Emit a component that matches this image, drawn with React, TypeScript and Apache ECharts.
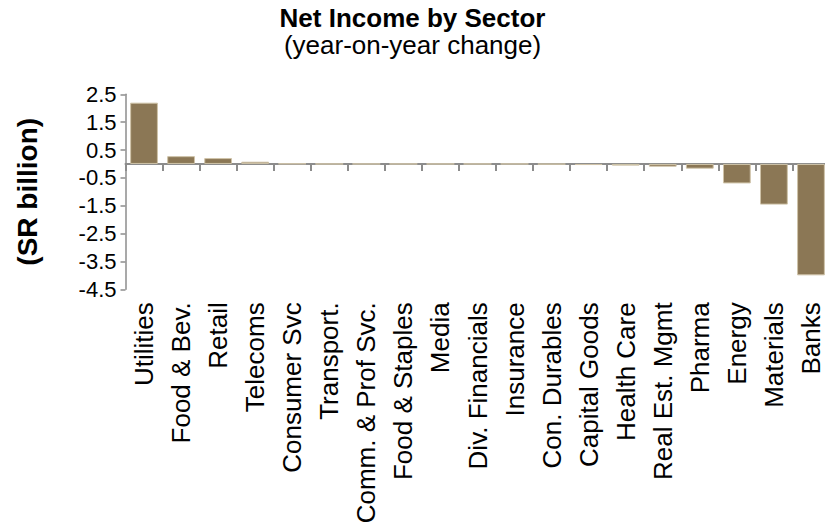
import React, { useEffect, useRef } from "react";
import * as echarts from "echarts";

const categories = [
  "Utilities",
  "Food & Bev.",
  "Retail",
  "Telecoms",
  "Consumer Svc",
  "Transport.",
  "Comm. & Prof Svc.",
  "Food & Staples",
  "Media",
  "Div. Financials",
  "Insurance",
  "Con. Durables",
  "Capital Goods",
  "Health Care",
  "Real Est. Mgmt",
  "Pharma",
  "Energy",
  "Materials",
  "Banks",
];

const netIncomeChange = [
  2.2, 0.28, 0.21, 0.08, 0.01, 0, 0, 0, 0, 0, 0, -0.01, -0.04, -0.06, -0.1,
  -0.17, -0.7, -1.46, -4.0,
];

const yMin = -4.5;
const yMax = 2.5;
const yStep = 1;

const FONT = "'Liberation Sans', Arial, sans-serif";

export default function App() {
  const ref = useRef<HTMLDivElement>(null);

  useEffect(() => {
    if (!ref.current) return;
    const chart = echarts.init(ref.current, undefined, { renderer: "svg" });
    chart.setOption({
      animation: false,
      backgroundColor: "#ffffff",
      textStyle: { fontFamily: FONT },
      title: {
        text: "Net Income by Sector",
        subtext: "(year-on-year change)",
        left: "center",
        top: 0,
        itemGap: 1,
        textStyle: {
          fontFamily: FONT,
          fontSize: 26,
          fontWeight: "bold",
          color: "#000",
        },
        subtextStyle: {
          fontFamily: FONT,
          fontSize: 26,
          color: "#000",
        },
      },
      grid: {
        left: 125.5,
        top: 94.3,
        height: 195,
        width: 704,
        containLabel: false,
        outerBoundsMode: "none",
      },
      xAxis: {
        type: "category",
        data: categories,
        axisLine: {
          onZero: true,
          lineStyle: { color: "#8c8c8c", width: 2 },
        },
        axisTick: {
          show: true,
          inside: false,
          length: 7,
          lineStyle: { color: "#8c8c8c", width: 2 },
        },
        axisLabel: {
          rotate: 90,
          interval: 0,
          margin: 13,
          fontFamily: FONT,
          fontSize: 26,
          color: "#000",
        },
        splitLine: { show: false },
      },
      yAxis: {
        type: "value",
        min: yMin,
        max: yMax,
        interval: yStep,
        name: "(SR billion)",
        nameLocation: "middle",
        nameRotate: 90,
        nameGap: 84,
        nameTextStyle: {
          fontFamily: FONT,
          fontSize: 28,
          fontWeight: "bold",
          color: "#000",
        },
        axisLine: { show: true, lineStyle: { color: "#8c8c8c", width: 1.5 } },
        axisTick: {
          show: true,
          inside: false,
          length: 5,
          lineStyle: { color: "#8c8c8c", width: 1.5 },
        },
        axisLabel: {
          margin: 9,
          fontFamily: FONT,
          fontSize: 22,
          color: "#000",
          formatter: (v: number) => v.toFixed(1),
        },
        splitLine: { show: false },
      },
      series: [
        {
          type: "bar",
          data: netIncomeChange,
          barCategoryGap: "25%",
          itemStyle: {
            color: "#8b7755",
            borderColor: "#cfc3a8",
            borderWidth: 1,
          },
        },
      ],
    });
    return () => chart.dispose();
  }, []);

  return (
    <div
      ref={ref}
      style={{ position: "fixed", left: 0, top: 0, width: 825, height: 532 }}
    />
  );
}
